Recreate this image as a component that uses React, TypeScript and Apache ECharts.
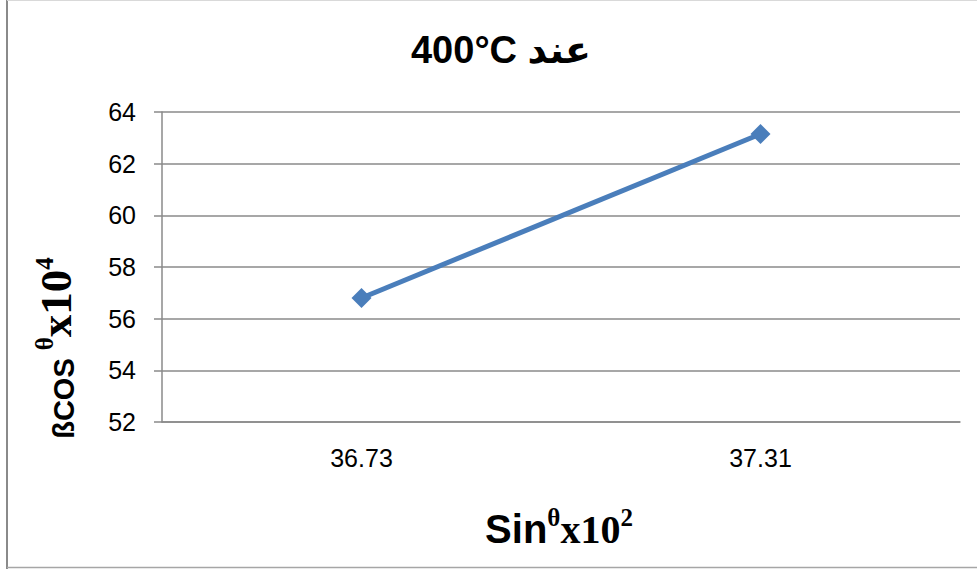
import React, { useEffect, useRef } from "react";
import * as echarts from "echarts";

const titleText = "400°C عند";
const categories = ["36.73", "37.31"];
const values = [56.8, 63.15];
const yMin = 52;
const yMax = 64;
const yInterval = 2;

export default function App() {
  const ref = useRef<HTMLDivElement>(null);
  useEffect(() => {
    if (!ref.current) return;
    const chart = echarts.init(ref.current, null, { renderer: "svg" });
    const gray = "#8a8a8a";
    chart.setOption({
      animation: false,
      backgroundColor: "#ffffff",
      title: {
        text: titleText,
        left: 496,
        top: 26,
        textAlign: "center",
        textStyle: {
          fontFamily: "'Liberation Sans', 'DejaVu Sans', sans-serif",
          fontWeight: "bold",
          fontSize: 38,
          color: "#000",
        },
      },
      grid: { left: 162, right: 17, top: 112, bottom: 147 },
      xAxis: {
        type: "category",
        data: categories,
        boundaryGap: true,
        axisLine: { show: true, lineStyle: { color: gray, width: 1.5 } },
        axisTick: { show: false },
        axisLabel: {
          margin: 23,
          fontFamily: "'Liberation Sans', Arial, sans-serif",
          fontSize: 25,
          color: "#000",
        },
      },
      yAxis: {
        type: "value",
        min: yMin,
        max: yMax,
        interval: yInterval,
        axisLine: { show: true, lineStyle: { color: gray, width: 1.5 } },
        axisTick: { show: true, length: 8, lineStyle: { color: gray, width: 1.5 } },
        splitLine: { show: true, lineStyle: { color: gray, width: 1.5 } },
        axisLabel: {
          margin: 26,
          fontFamily: "'Liberation Sans', Arial, sans-serif",
          fontSize: 25,
          color: "#000",
        },
      },
      series: [
        {
          type: "line",
          data: values,
          symbol: "diamond",
          symbolSize: 20,
          lineStyle: { color: "#4a7ebb", width: 5 },
          itemStyle: { color: "#4a7ebb" },
        },
      ],
      graphic: [
        { type: "line", shape: { x1: 7, y1: 0, x2: 7, y2: 569 }, style: { stroke: "#8a8a8a", lineWidth: 2 } },
        { type: "line", shape: { x1: 7, y1: 0.5, x2: 977, y2: 0.5 }, style: { stroke: "#d9d9d9", lineWidth: 1 } },
        { type: "line", shape: { x1: 7, y1: 567.5, x2: 977, y2: 567.5 }, style: { stroke: "#a6a6a6", lineWidth: 1.5 } },
        {
          type: "text",
          x: 559,
          y: 527,
          style: {
            text: "{a|Sin}{s|θ}{b|x10}{s|2}",
            align: "center",
            verticalAlign: "middle",
            rich: {
              a: { fontFamily: "'Liberation Sans', sans-serif", fontWeight: "bold", fontSize: 40, lineHeight: 44, fill: "#000", verticalAlign: "bottom" },
              b: { fontFamily: "'Liberation Serif', serif", fontWeight: "bold", fontSize: 40, lineHeight: 44, fill: "#000", verticalAlign: "bottom" },
              s: { fontFamily: "'Liberation Serif', serif", fontWeight: "bold", fontSize: 25, lineHeight: 44, fill: "#000", verticalAlign: "top" },
            },
          },
        },
        {
          type: "text",
          x: 55,
          y: 348,
          rotation: Math.PI / 2,
          style: {
            text: "{a|ßCOS }{s|θ}{b|x10}{s|4}",
            align: "center",
            verticalAlign: "middle",
            rich: {
              a: { fontFamily: "'Liberation Sans', sans-serif", fontWeight: "bold", fontSize: 29, lineHeight: 46, fill: "#000", verticalAlign: "bottom" },
              b: { fontFamily: "'Liberation Serif', serif", fontWeight: "bold", fontSize: 45, lineHeight: 46, fill: "#000", verticalAlign: "bottom" },
              s: { fontFamily: "'Liberation Serif', serif", fontWeight: "bold", fontSize: 25, lineHeight: 46, fill: "#000", verticalAlign: "top" },
            },
          },
        },
      ],
    });
    return () => chart.dispose();
  }, []);
  return (
    <div
      ref={ref}
      style={{ position: "fixed", left: 0, top: 0, width: 977, height: 569 }}
    />
  );
}
